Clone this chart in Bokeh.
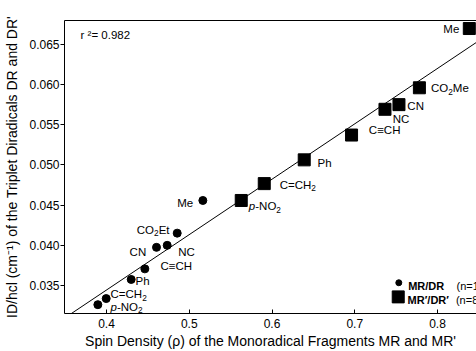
from bokeh.plotting import figure
from bokeh.models import Label, LinearAxis, FixedTicker, NumeralTickFormatter, Range1d
from bokeh.embed import file_html
from bokeh.resources import INLINE

# ---------------- data ----------------
mr_x = [0.3895, 0.3996, 0.4298, 0.4463, 0.4604, 0.4733, 0.4854, 0.5164]
mr_y = [0.0326, 0.03336, 0.03574, 0.03706, 0.03974, 0.03999, 0.04151, 0.04558]
mr_labels = ["p-NO₂", "C=CH₂", "Ph", "C≡CH", "CN", "NC", "CO₂Et", "Me"]

mrp_x = [0.5628, 0.5906, 0.6389, 0.6961, 0.7365, 0.7534, 0.7781, 0.8384]
mrp_y = [0.04558, 0.04768, 0.05064, 0.05373, 0.05694, 0.05752, 0.05962, 0.0670]
mrp_labels = ["p-NO₂", "C=CH₂", "Ph", "C≡CH", "NC", "CN", "CO₂Me", "Me"]

fit_slope = 0.0690
fit_intercept = 0.00683
r_squared_text = "r ²= 0.982"

x_ticks = [0.4, 0.5, 0.6, 0.7, 0.8]
y_ticks = [0.035, 0.040, 0.045, 0.050, 0.055, 0.060, 0.065]

legend_names = ["MR/DR", "MR′/DR′"]
legend_counts = ["(n=11)", "(n=8)"]
legend_x = [0.7532, 0.7525]
legend_y = [0.03533, 0.03357]

y_title = "ID/hcl (cm⁻¹) of the Triplet Diradicals DR and DR'"
x_title = "Spin Density (ρ) of the Monoradical Fragments MR and MR'"
r2_pos = (0.3686, 0.06615)

# ---------------- layout ----------------
X0, X1 = 0.3492, 0.8471
Y0, Y1 = 0.0315, 0.0680
W_CANVAS, H_CANVAS = 476, 351
B_LEFT, B_RIGHT, B_TOP, B_BOTTOM = 64, 0, 20, 36
FW = W_CANVAS - B_LEFT - B_RIGHT
FH = H_CANVAS - B_TOP - B_BOTTOM
ppx = FW / (X1 - X0)
ppy = FH / (Y1 - Y0)
FONT = "Liberation Sans"

mr_offsets = [(12.7, 0, "left"), (4.3, -6, "left"), (4.3, 0, "left"), (15.7, -4.3, "left"),
              (-10.3, 2.7, "right"), (11, 4.7, "left"), (-7.7, -4.7, "right"), (-9.6, 1.3, "right")]
mrp_offsets = [(7.6, 4.7, "left"), (15.4, 0, "left"), (13.3, 1.7, "left"), (17.3, -6, "left"),
               (7.7, 8.7, "left"), (8.4, 0.7, "left"), (11.6, 0, "left"), (-10, 0.7, "right")]

# Arial / Liberation Sans advance widths (per 1000 em)
W = {' ': 278, '(': 333, ')': 333, '/': 278, "'": 191, '-': 333, '=': 584, '.': 278,
     '≡': 584, 'ρ': 578, '²': 333, '′': 333,
     'A': 667, 'B': 667, 'C': 722, 'D': 722, 'E': 667, 'F': 611, 'G': 778, 'H': 722, 'I': 278,
     'J': 500, 'K': 667, 'L': 556, 'M': 833, 'N': 722, 'O': 778, 'P': 667, 'Q': 778, 'R': 722,
     'S': 667, 'T': 611, 'U': 722, 'V': 667, 'W': 944, 'X': 667, 'Y': 667, 'Z': 611,
     'a': 556, 'b': 556, 'c': 500, 'd': 556, 'e': 556, 'f': 278, 'g': 556, 'h': 556, 'i': 222,
     'j': 222, 'k': 500, 'l': 222, 'm': 833, 'n': 556, 'o': 556, 'p': 556, 'q': 556, 'r': 333,
     's': 500, 't': 278, 'u': 556, 'v': 500, 'w': 722, 'x': 500, 'y': 500, 'z': 500}
WB = dict(W)
WB.update({"'": 238, 'a': 556, 'n': 611, 'd': 611, 'r': 389, 't': 333, 'i': 278, 'l': 278})


def tw(s, size, bold=False):
    t = WB if bold else W
    return sum(t.get(c, 556) for c in s) * size / 1000.0


p = figure(width=W_CANVAS, height=H_CANVAS, x_range=Range1d(X0, X1), y_range=Range1d(Y0, Y1),
           output_backend="svg", toolbar_location=None,
           min_border_left=B_LEFT, min_border_right=B_RIGHT,
           min_border_top=B_TOP, min_border_bottom=B_BOTTOM)
p.outline_line_color = None
p.grid.visible = False
p.background_fill_color = "white"
p.border_fill_color = "white"

for ax in p.xaxis:
    ax.ticker = FixedTicker(ticks=x_ticks)
    ax.formatter = NumeralTickFormatter(format="0.0")
    ax.major_tick_in = 4
    ax.major_tick_out = 0
    ax.major_label_standoff = 5
    ax.axis_label = x_title
    ax.axis_label_standoff = 2
for ax in p.yaxis:
    ax.ticker = FixedTicker(ticks=y_ticks)
    ax.formatter = NumeralTickFormatter(format="0.000")
    ax.major_tick_in = 0
    ax.major_tick_out = 4
    ax.major_label_standoff = 1
    ax.axis_label = y_title
    ax.axis_label_standoff = 6
for ax in p.xaxis + p.yaxis:
    ax.minor_tick_line_color = None
    ax.axis_line_color = "black"
    ax.major_tick_line_color = "black"
    ax.major_label_text_font = FONT
    ax.major_label_text_font_size = "12px"
    ax.major_label_text_color = "black"
    ax.axis_label_text_font = FONT
    ax.axis_label_text_font_size = "14px"
    ax.axis_label_text_font_style = "normal"
    ax.axis_label_text_color = "black"

top = LinearAxis(ticker=FixedTicker(ticks=[]), axis_line_color="black",
                 major_tick_line_color=None, minor_tick_line_color=None,
                 major_tick_in=0, major_tick_out=0, major_label_standoff=0)
p.add_layout(top, "above")

# regression line
fx = [X0, X1]
fy = [fit_intercept + fit_slope * v for v in fx]
p.line(fx, fy, line_color="black", line_width=1)

p.scatter(mr_x, mr_y, marker="circle", size=8, color="black")
p.scatter(mrp_x, mrp_y, marker="square", size=12, color="black")


def put(cx, cy, segs, align="left"):
    """cx, cy canvas px (top-left origin); cy = vertical middle of main text."""
    widths = [tw(t, sz, st == "bold") for t, sz, st, k in segs]
    total = sum(widths)
    main = max(sz for t, sz, st, k in segs)
    pos = -total if align == "right" else 0.0
    for (t, sz, st, k), w in zip(segs, widths):
        shift = 0.30 * main if k == "sub" else 0.0
        p.add_layout(Label(x=cx + pos, y=cy + shift, x_units="canvas", y_units="canvas", text=t,
                           text_font=FONT, text_font_size=f"{sz}px", text_font_style=st,
                           text_baseline="middle", text_align="left", text_color="black"))
        pos += w


def name_segs(name, size):
    segs = []
    if name.startswith("p-"):
        segs.append(("p", size, "italic", "n"))
        name = name[1:]
    buf = ""
    for ch in name:
        if ch == "₂":
            if buf:
                segs.append((buf, size, "normal", "n"))
                buf = ""
            segs.append(("2", round(size * 0.72, 1), "normal", "sub"))
        else:
            buf += ch
    if buf:
        segs.append((buf, size, "normal", "n"))
    return segs


def cxp(x):
    return B_LEFT + (x - X0) * ppx


def cyp(y):
    return B_TOP + (Y1 - y) * ppy


LS = 11.5
for xs, ys, labs, offs in [(mr_x, mr_y, mr_labels, mr_offsets), (mrp_x, mrp_y, mrp_labels, mrp_offsets)]:
    for x, y, lab, (dx, dy, al) in zip(xs, ys, labs, offs):
        put(cxp(x) + dx, cyp(y) + dy, name_segs(lab, LS), align=al)

# r^2
put(cxp(r2_pos[0]), cyp(r2_pos[1]), [(r_squared_text, LS, "normal", "n")])

# legend
p.scatter([legend_x[0]], [legend_y[0]], marker="circle", size=6, color="black")
p.scatter([legend_x[1]], [legend_y[1]], marker="square", size=12, color="black")
for i in range(2):
    put(cxp(legend_x[i]) + 9.4, cyp(legend_y[i]) + (1 if i == 0 else 1.5),
        [(legend_names[i], 11, "bold", "n")])
    put(cxp(legend_x[i]) + 57.7, cyp(legend_y[i]) + (1 if i == 0 else 1.5),
        [(legend_counts[i], 11, "normal", "n")])

open("out.html", "w").write(file_html(p, INLINE))
